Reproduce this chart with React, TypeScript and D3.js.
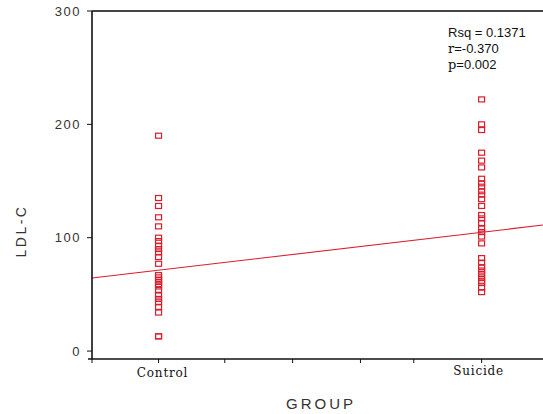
import React, { useEffect, useRef } from 'react';
import * as d3 from 'd3';

// group codes and labels
const groups = [1, 2];
const groupLabels = ['Control', 'Suicide'];

// LDL-C values
const controlValues = [190, 135, 128, 118, 110, 100, 97, 93, 90, 87, 83, 77, 67, 65, 63, 61, 59, 57, 54, 49, 46, 43, 39, 34, 13, 13];
const suicideValues = [222, 200, 195, 175, 168, 162, 152, 148, 145, 141, 138, 134, 128, 120, 117, 113, 108, 105, 101, 95, 82, 78, 74, 71, 68, 65, 62, 60, 56, 52];

// fitted line values at group 1 and group 2
const fitValues = [71.3, 104.8];

const yTicks = [0, 100, 200, 300];
const xMinorTicks = [0.794, 1, 1.205, 1.415, 1.625, 1.79, 2];

// stat lines: [letter part, rest]
const statLines = [['', 'Rsq = 0.1371'], ['r', '=-0.370'], ['p', '=0.002']];

const W = 543;
const H = 414;
const SANS = 'Liberation Sans, Arial, sans-serif';
const SERIF = 'DejaVu Serif, Liberation Serif, serif';

const App = () => {
  const ref = useRef<SVGSVGElement | null>(null);

  useEffect(() => {
    const svg = d3.select(ref.current);
    svg.selectAll('*').remove();

    const x = d3.scaleLinear().domain([0.794, 2.19]).range([92, 543]);
    const y = d3.scaleLinear().domain([-7, 300]).range([359, 11]);
    const red = '#d81e2c';
    const axisColor = '#111';

    // regression line across the whole plot
    const slope = fitValues[1] - fitValues[0];
    const fit = (g: number) => fitValues[0] + slope * (g - groups[0]);
    const [x0, x1] = x.domain();
    svg.append('line')
      .attr('x1', x(x0)).attr('y1', y(fit(x0)))
      .attr('x2', x(x1)).attr('y2', y(fit(x1)))
      .attr('stroke', red).attr('stroke-width', 1.1);

    // points
    const series = [controlValues, suicideValues];
    series.forEach((vals, i) => {
      svg.append('g').selectAll('rect')
        .data(vals)
        .enter()
        .append('rect')
        .attr('x', x(groups[i]) - 3)
        .attr('y', d => y(d) - 2.5)
        .attr('width', 6)
        .attr('height', 5)
        .attr('fill', 'none')
        .attr('stroke', red)
        .attr('stroke-width', 1.2);
    });

    // frame
    svg.append('line').attr('x1', 92).attr('x2', 543).attr('y1', 11).attr('y2', 11)
      .attr('stroke', '#444').attr('stroke-width', 1.8);
    svg.append('line').attr('x1', 92).attr('x2', 92).attr('y1', 11).attr('y2', 359)
      .attr('stroke', axisColor).attr('stroke-width', 1.6);
    svg.append('line').attr('x1', 88).attr('x2', 543).attr('y1', 359).attr('y2', 359)
      .attr('stroke', axisColor).attr('stroke-width', 1.6);

    // y ticks
    const yt = svg.append('g');
    yTicks.forEach(t => {
      yt.append('line').attr('x1', 87).attr('x2', 92).attr('y1', y(t)).attr('y2', y(t))
        .attr('stroke', axisColor);
      yt.append('text').attr('x', 81).attr('y', y(t)).attr('dy', '0.35em')
        .attr('text-anchor', 'end')
        .attr('font-family', SANS)
        .attr('font-size', 13).attr('letter-spacing', 1.5).attr('fill', '#333')
        .text(t);
    });

    // x ticks
    xMinorTicks.forEach(t => {
      svg.append('line').attr('x1', x(t)).attr('x2', x(t)).attr('y1', 359).attr('y2', 363)
        .attr('stroke', axisColor);
    });

    groupLabels.forEach((lab, i) => {
      svg.append('text').attr('x', x(groups[i]) + (i === 0 ? 4 : -3)).attr('y', i === 0 ? 377 : 375)
        .attr('text-anchor', 'middle')
        .attr('font-family', SERIF)
        .attr('font-size', 12).attr('letter-spacing', 0.8).attr('fill', '#111')
        .text(lab);
    });

    // axis titles
    svg.append('text').attr('x', 321).attr('y', 409)
      .attr('text-anchor', 'middle')
      .attr('font-family', SANS)
      .attr('font-size', 15).attr('letter-spacing', 3).attr('fill', '#333')
      .text('GROUP');
    svg.append('text')
      .attr('transform', 'translate(26,231) rotate(-90)')
      .attr('text-anchor', 'middle')
      .attr('font-family', SANS)
      .attr('font-size', 14).attr('letter-spacing', 2.5).attr('fill', '#333')
      .text('LDL-C');

    // stats
    statLines.forEach(([a, b], i) => {
      const t = svg.append('text').attr('x', 448).attr('y', 37 + i * 16)
        .attr('font-size', 13).attr('fill', '#111');
      if (a) t.append('tspan').attr('font-family', SERIF).text(a);
      t.append('tspan').attr('font-family', SANS).text(b);
    });
  }, []);

  return (
    <svg ref={ref} width={W} height={H}
      style={{ position: 'absolute', left: 0, top: 0, background: '#fff', display: 'block' }} />
  );
};

export default App;
